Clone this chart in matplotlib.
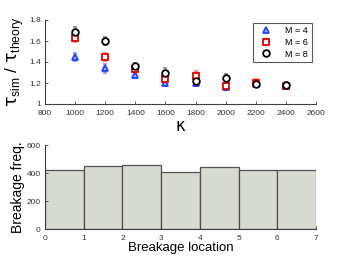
import matplotlib
matplotlib.use("Agg")
import matplotlib.pyplot as plt
from matplotlib.lines import Line2D
import numpy as np

plt.rcParams['font.family'] = ['Liberation Sans', 'DejaVu Sans']
plt.rcParams['mathtext.fontset'] = 'custom'
plt.rcParams['mathtext.rm'] = 'Liberation Sans'
plt.rcParams['mathtext.it'] = 'DejaVu Sans'

kappa = [1000, 1200, 1400, 1600, 1800, 2000, 2200, 2400]
ratio_m4 = [1.45, 1.34, 1.28, 1.20, 1.20, 1.16, 1.19, 1.17]
ratio_m6 = [1.63, 1.45, 1.33, 1.24, 1.27, 1.17, 1.20, 1.17]
ratio_m8 = [1.69, 1.60, 1.36, 1.30, 1.22, 1.25, 1.19, 1.18]
err_m4 = [0.04, 0.04, 0.03, 0.03, 0.03, 0.03, 0.03, 0.03]
err_m6 = [0.04, 0.04, 0.03, 0.03, 0.04, 0.04, 0.04, 0.03]
err_m8 = [0.04, 0.04, 0.03, 0.04, 0.03, 0.04, 0.03, 0.03]
labels = ['M = 4', 'M = 6', 'M = 8']

bin_edges = [0, 1, 2, 3, 4, 5, 6, 7]
breakage_counts = [420, 453, 458, 408, 445, 418, 420]

fig = plt.figure(figsize=(3.49, 2.63), dpi=100)
W, H = 349, 263
ax1 = fig.add_axes([45 / W, 1 - 104 / H, (316 - 45) / W, (104 - 20) / H])
ax2 = fig.add_axes([45 / W, 1 - 229 / H, (316 - 45) / W, (229 - 145) / H])

series = [
    (ratio_m4, err_m4, '^', '#2040ff', '#a8b8ff', '#8898ff', 5.0),
    (ratio_m6, err_m6, 's', '#e00000', '#ffffff', '#ff8080', 4.2),
    (ratio_m8, err_m8, 'o', '#000000', '#ffffff', '#909090', 4.8),
]
handles = []
for (vals, errs, mk, ec, fc, errc, ms), lab in zip(series, labels):
    ax1.errorbar(kappa, vals, yerr=errs, fmt=mk, ms=ms,
                 mec=ec, mfc=fc, mew=1.3, ecolor=errc, elinewidth=0.8,
                 capsize=1.5)
    handles.append(Line2D([], [], ls='none', marker=mk, ms=ms, mec=ec,
                          mfc=fc, mew=1.3, label=lab))

ax1.set_xlim(800, 2600)
ax1.set_ylim(1, 1.8)
ax1.set_xticks(np.arange(800, 2601, 200))
ax1.set_yticks([1, 1.2, 1.4, 1.6, 1.8])
ax1.set_yticklabels(['1', '1.2', '1.4', '1.6', '1.8'])
ax1.set_xlabel('κ', fontsize=12, labelpad=0, family='DejaVu Sans')
ax1.set_ylabel(r'$\tau_{\rm sim}$ / $\tau_{\rm theory}$', fontsize=12.5,
               labelpad=2)
leg = ax1.legend(handles=handles, loc='upper right',
                 bbox_to_anchor=(0.985, 0.97), fontsize=6.5,
                 frameon=True, fancybox=False, edgecolor='#303030',
                 handletextpad=1.0, borderpad=0.4, labelspacing=0.3,
                 handlelength=2.2, borderaxespad=0)
leg.get_frame().set_linewidth(0.8)

ax2.bar(bin_edges[:-1], breakage_counts, width=1, align='edge',
        color='#d8dbd2', edgecolor='#505050', linewidth=0.9)
ax2.set_xlim(0, 7)
ax2.set_ylim(0, 600)
ax2.set_xticks(range(0, 8))
ax2.set_yticks([0, 200, 400, 600])
ax2.set_xlabel('Breakage location', fontsize=9.5, labelpad=0)
ax2.set_ylabel('Breakage freq.', fontsize=10, labelpad=1)

for ax in (ax1, ax2):
    ax.spines['top'].set_visible(False)
    ax.spines['right'].set_visible(False)
    for s in ('left', 'bottom'):
        ax.spines[s].set_color('#404040')
        ax.spines[s].set_linewidth(0.8)
    ax.tick_params(direction='in', length=2, width=0.6, labelsize=6,
                   colors='#404040', labelcolor='#333333')
    ax.tick_params(axis='x', pad=4)
    ax.tick_params(axis='y', pad=3)

fig.savefig('out.png', dpi=100)
